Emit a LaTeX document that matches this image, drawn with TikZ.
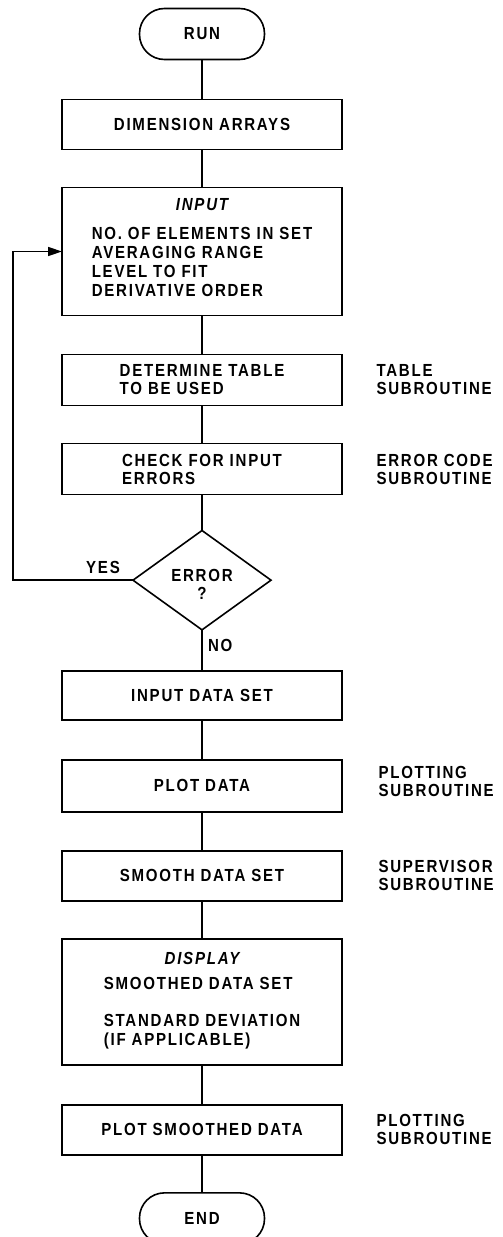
\documentclass[tikz,border=0pt]{standalone}
\usepackage{fontspec}
\setmainfont{Liberation Sans}
\usepackage{tikz}
\usetikzlibrary{arrows.meta, positioning, shapes.geometric}

\newcommand{\chart}{\fontsize{17.5}{19}\selectfont\bfseries\addfontfeature{FakeStretch=0.86,LetterSpace=10}}

\begin{document}
\begin{tikzpicture}[
  x=1pt, y=1pt,
  every node/.style={font=\chart},
  term/.style={draw, line width=1.6pt, rounded corners=25pt,
    minimum width=125pt, minimum height=51pt, inner sep=0pt, outer sep=0pt},
  proc/.style 2 args={draw, line width=1.6pt, minimum width=280pt,
    minimum height=#1, align=#2, inner sep=0pt, outer sep=0pt},
  dec/.style={draw, diamond, line width=1.6pt, minimum width=138pt,
    minimum height=94pt, inner sep=0pt, outer sep=0pt, align=center},
  arr/.style={-{Triangle[length=14pt,width=9pt]}, line width=1.6pt},
  link/.style={line width=1.6pt},
  note/.style={align=left, anchor=west},
]
\useasboundingbox (0,0) rectangle (503,-1237);

%% ── main column ─────────────────────────────────────────────
\node[term] (run) at (202,-34) {RUN};

\node[proc={50pt}{center}, below=40pt of run] (dims) {DIMENSION ARRAYS};

\node[proc={128pt}{center}, below=38pt of dims] (input) {%
  {\itshape INPUT}\\[14pt]
  \begin{tabular}{@{}l@{}}
    NO. OF ELEMENTS IN SET\\
    AVERAGING RANGE\\
    LEVEL TO FIT\\
    DERIVATIVE ORDER\\[2pt]
  \end{tabular}};

\node[proc={51pt}{left}, below=39pt of input] (table)
  {DETERMINE TABLE\\[-1pt]TO BE USED};

\node[proc={51pt}{left}, below=38pt of table] (check)
  {CHECK FOR INPUT\\[-1pt]ERRORS};

\node[dec, below=36pt of check] (err) {\rule{0pt}{20pt}ERROR\\[-1pt]?};

\node[proc={49pt}{center}, below=41pt of err] (inds) {INPUT DATA SET};

\node[proc={52pt}{center}, below=40pt of inds] (plot) {PLOT DATA};

\node[proc={50pt}{center}, below=39pt of plot] (smooth) {SMOOTH DATA SET};

\node[proc={126pt}{center}, below=38pt of smooth] (disp) {%
  {\itshape DISPLAY}\\[10pt]
  \begin{tabular}{@{}l@{}}
    SMOOTHED DATA SET\\[18pt]
    STANDARD DEVIATION\\
    (IF APPLICABLE)
  \end{tabular}};

\node[proc={50pt}{center}, below=40pt of disp] (plotsm) {PLOT SMOOTHED DATA};

\node[term, below=38pt of plotsm] (end) {END};

%% ── side notes ──────────────────────────────────────────────
\node[note, right=31pt of table] (ntable) {TABLE\\[-1pt]SUBROUTINE};
\node[note, right=31pt of check] (ncheck) {ERROR CODE\\[-1pt]SUBROUTINE};
\node[note, right=33pt of plot, yshift=4pt] (nplot) {PLOTTING\\[-1pt]SUBROUTINE};
\node[note, right=33pt of smooth] (nsmooth) {SUPERVISOR\\[-1pt]SUBROUTINE};
\node[note, right=31pt of plotsm] (nplotsm) {PLOTTING\\[-1pt]SUBROUTINE};

%% ── connectors ──────────────────────────────────────────────
\draw[link] (run) -- (dims);
\draw[link] (dims) -- (input);
\draw[link] (input) -- (table);
\draw[link] (table) -- (check);
\draw[link] (check) -- (err);
\draw[link] (err) -- (inds)
  node[pos=0.38, anchor=west, xshift=2pt] {NO};
\draw[link] (inds) -- (plot);
\draw[link] (plot) -- (smooth);
\draw[link] (smooth) -- (disp);
\draw[link] (disp) -- (plotsm);
\draw[link] (plotsm) -- (end);

% error loop back to input
\draw[arr] (err.west) -- ++(-120pt,0)
  node[pos=0.25, above, yshift=2pt] {YES}
  |- (input.west);

\end{tikzpicture}
\end{document}
